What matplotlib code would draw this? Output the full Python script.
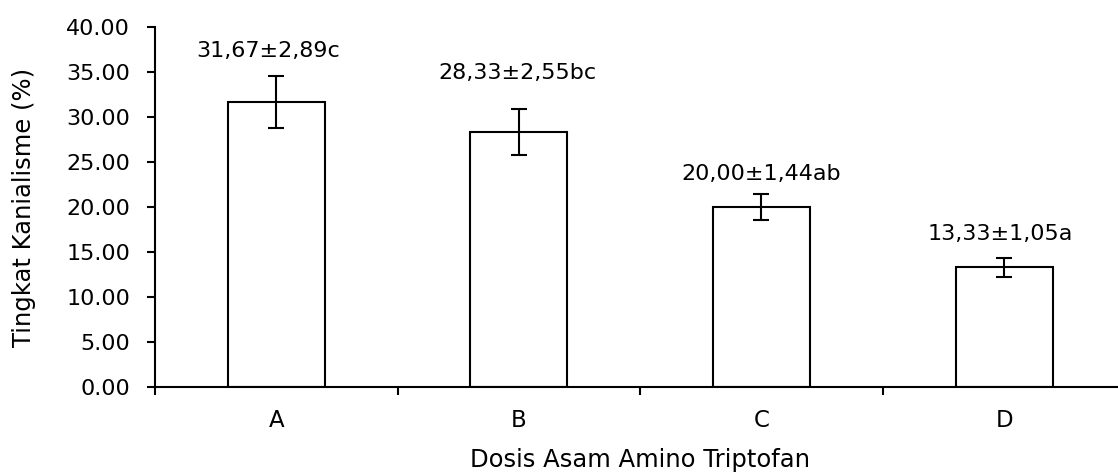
import matplotlib.pyplot as plt
import numpy as np
from matplotlib.ticker import FormatStrFormatter, FixedLocator

plt.rcParams['font.family'] = ['DejaVu Sans']

categories = ['A', 'B', 'C', 'D']
means = [31.67, 28.33, 20.00, 13.33]
errors = [2.89, 2.55, 1.44, 1.05]
labels = ['31,67±2,89c', '28,33±2,55bc', '20,00±1,44ab', '13,33±1,05a']

# label offsets above the error bar (points), as placed in the original
label_dx = [-6, -1, 0, -3]
label_dy = [11, 19, 7, 10]

fig = plt.figure(figsize=(11.18, 4.76), dpi=100)
ax = fig.add_axes([0.1386, 0.187, 0.868, 0.756])

x = np.arange(len(categories))
ax.bar(x, means, width=0.4, color='white', edgecolor='black', linewidth=1.5)
ax.errorbar(x, means, yerr=errors, fmt='none', ecolor='black', elinewidth=1.5,
            capsize=5.5, capthick=1.5)

for xi, m, e, lab, dx, dy in zip(x, means, errors, labels, label_dx, label_dy):
    ax.annotate(lab, (xi, m + e), xytext=(dx, dy), textcoords='offset points',
                ha='center', va='bottom', fontsize=16)

ax.set_xlim(-0.5, len(categories) - 0.5)
ax.set_ylim(0, 40)
ax.set_yticks(np.arange(0, 40.1, 5))
ax.yaxis.set_major_formatter(FormatStrFormatter('%.2f'))

ax.xaxis.set_major_locator(FixedLocator(np.arange(-0.5, len(categories), 1)))
ax.xaxis.set_major_formatter(plt.NullFormatter())
ax.xaxis.set_minor_locator(FixedLocator(x))
ax.set_xticklabels(categories, minor=True)
ax.tick_params(axis='x', which='minor', length=0, pad=16, labelsize=16.5)
ax.tick_params(axis='x', which='major', length=6, width=1.5, direction='out')
ax.tick_params(axis='y', length=6, width=1.5, direction='out', labelsize=16, pad=12)

for s in ['top', 'right']:
    ax.spines[s].set_visible(False)
for s in ['left', 'bottom']:
    ax.spines[s].set_linewidth(1.5)

ax.set_xlabel('Dosis Asam Amino Triptofan', fontsize=17.5, labelpad=11.5)
ax.set_ylabel('Tingkat Kanialisme (%)', fontsize=17.5, labelpad=22)

fig.savefig('out.png', dpi=100)
